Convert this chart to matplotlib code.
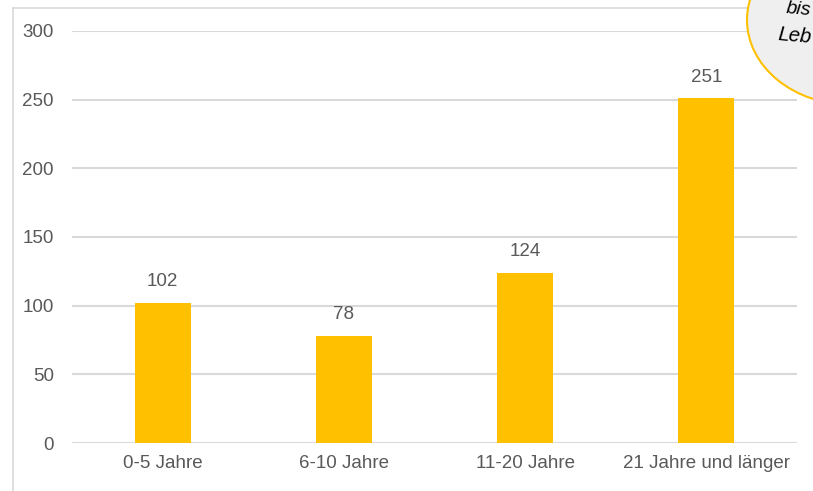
import matplotlib
matplotlib.use("Agg")
import matplotlib.pyplot as plt
from matplotlib.patches import Ellipse
from matplotlib.lines import Line2D
from matplotlib import font_manager

categories = ["0-5 Jahre", "6-10 Jahre", "11-20 Jahre", "21 Jahre und länger"]
values = [102, 78, 124, 251]
yticks = [0, 50, 100, 150, 200, 250, 300]

names = {f.name for f in font_manager.fontManager.ttflist}
fam = "Liberation Sans Narrow" if "Liberation Sans Narrow" in names else "Liberation Sans"
plt.rcParams["font.family"] = [fam, "DejaVu Sans"]

W, H = 813, 491
fig = plt.figure(figsize=(W / 100, H / 100), dpi=100)
ax = fig.add_axes([72 / W, 1 - 443 / H, (797 - 72) / W, (443 - 31) / H])

textc = "#595959"
x = list(range(len(categories)))
ax.bar(x, values, width=0.31, color="#FFC000", zorder=3)
for xi, v in zip(x, values):
    ax.annotate(str(v), (xi, v), xytext=(0, 9), textcoords="offset points",
                ha="center", va="bottom", fontsize=13.5, color=textc)

ax.set_xlim(-0.5, 3.5)
ax.set_ylim(0, 300)
ax.set_yticks(yticks)
ax.set_xticks(x)
ax.set_xticklabels(categories)
ax.tick_params(axis="both", length=0, labelsize=13.5, colors=textc)
ax.tick_params(axis="y", pad=13)
ax.tick_params(axis="x", pad=9)
ax.grid(axis="y", color="#d9d9d9", linewidth=1.5, zorder=0)
ax.set_axisbelow(True)
for s in ax.spines.values():
    s.set_visible(False)

# outer frame (left and top edges)
fig.add_artist(Line2D([12.5 / W, 12.5 / W], [0, 1 - 7.5 / H], transform=fig.transFigure,
                      color="#d9d9d9", linewidth=1.2))
fig.add_artist(Line2D([12.5 / W, 1], [1 - 7.5 / H, 1 - 7.5 / H], transform=fig.transFigure,
                      color="#d9d9d9", linewidth=1.2))

# speech bubble in top-right corner (partially visible)
bub = Ellipse((852 / W, 1 - 20 / H), 210 / W, 170 / H, transform=fig.transFigure,
              facecolor="#efefef", edgecolor="#FFC000", linewidth=1.5, zorder=10)
fig.add_artist(bub)
fig.text(785 / W, 1 - 10 / H, "bis", fontsize=14, style="italic", color="black",
         ha="left", va="center", rotation=-5, zorder=11, family=["Liberation Sans", "DejaVu Sans"])
fig.text(777 / W, 1 - 36 / H, "Leb", fontsize=14.5, style="italic", color="black",
         ha="left", va="center", rotation=-5, zorder=11, family=["Liberation Sans", "DejaVu Sans"])

fig.savefig("out.png", dpi=100, facecolor="white")
